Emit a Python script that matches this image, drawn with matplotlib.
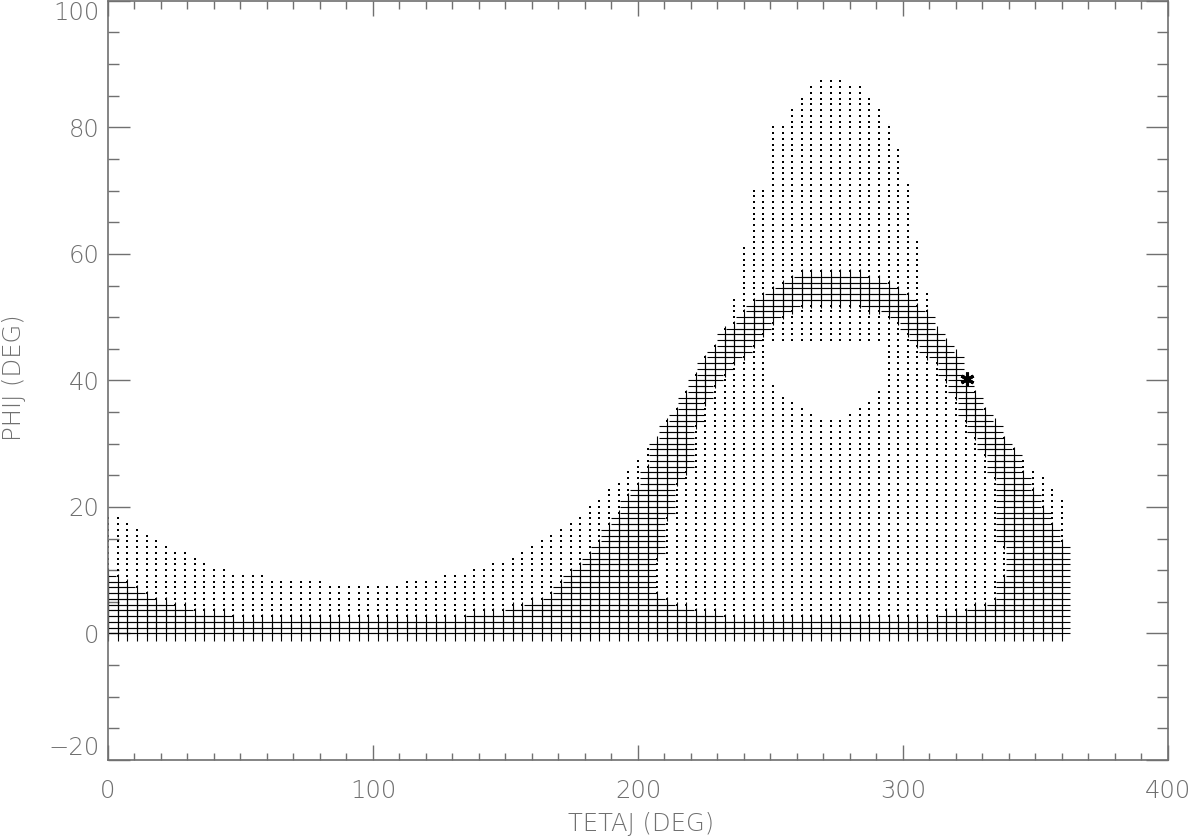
import numpy as np
import matplotlib
matplotlib.use('Agg')
import matplotlib.pyplot as plt
from matplotlib.ticker import MultipleLocator

# sampling grid of the map: 100 columns in TETAJ, 100 rows in PHIJ
tetaj = np.linspace(0, 360, 100)
phij = np.linspace(0, 90, 100)

# per column (0..99): highest row index that carries a symbol
top_row = [20, 20, 19, 18, 17, 16, 15, 14, 14, 13,
           12, 11, 11, 10, 10, 10, 10, 9, 9, 9,
           9, 9, 9, 8, 8, 8, 8, 8, 8, 8,
           8, 9, 9, 9, 9, 10, 10, 10, 11, 11,
           12, 12, 13, 14, 15, 16, 17, 18, 19, 20,
           22, 23, 25, 26, 28, 30, 32, 33, 37, 39,
           42, 45, 48, 50, 53, 58, 67, 77, 77, 88,
           88, 91, 93, 95, 96, 96, 96, 95, 95, 93,
           91, 88, 84, 78, 68, 59, 52, 50, 48, 44,
           42, 39, 36, 34, 32, 30, 28, 27, 25, 23]

# per column: top row of the '+' band along PHIJ = 0
bottom_row = [10, 9, 8, 7, 6, 5, 5, 4, 4, 3,
              3, 3, 3, 2, 2, 2, 2, 2, 2, 2,
              2, 2, 2, 2, 2, 2, 2, 2, 2, 2,
              2, 2, 2, 2, 2, 2, 2, 2, 3, 3,
              3, 3, 4, 4, 5, 5, 6, 7, 7, 7,
              7, 7, 7, 7, 7, 7, 7, 6, 5, 4,
              4, 3, 3, 3, 2, 2, 2, 2, 2, 2,
              2, 2, 2, 2, 2, 2, 2, 2, 2, 2,
              2, 2, 2, 2, 2, 2, 2, 3, 3, 3,
              4, 4, 5, 9, 9, 9, 9, 9, 9, 9]

# per column: lower / upper row of the arch-shaped '+' band
arch_hi = ([-1] * 38 + [3, 3, 3, 3, 4, 4, 5, 5, 6]
           + [8, 10, 11, 13, 15, 18, 20, 23, 25, 28]
           + [33, 36, 38, 41, 44, 47, 49, 52, 53, 55]
           + [57, 58, 59, 60, 61] + [62] * 7
           + [61, 61, 60, 59, 58, 56, 55, 52, 50, 48, 43,
              41, 38, 36, 33, 31, 27, 24, 21, 18, 15])
arch_lo = ([0] * 57
           + [14, 21, 27, 29, 37, 41, 44, 46, 48, 49, 51, 53, 55, 56, 57]
           + [58] * 7
           + [57, 57, 56, 55, 53, 51, 49, 48, 45, 42, 38, 35, 32, 28, 16]
           + [0] * 6)

# per column: empty hole inside the arch
hole_lo = [0] * 69 + [44, 42, 41, 40, 39, 38, 38, 38, 39, 40, 41, 43] + [0] * 19
hole_hi = [-1] * 69 + [50] * 12 + [-1] * 19

star_tetaj, star_phij = 324.0, 40.3

TH, PH = np.meshgrid(tetaj, phij)
J = np.arange(len(phij))[:, None]
plus = (J <= np.array(bottom_row)) | ((J >= np.array(arch_lo)) & (J <= np.array(arch_hi)))
hole = (J >= np.array(hole_lo)) & (J <= np.array(hole_hi))
dots = (J <= np.array(top_row)) & ~plus & ~hole

grey = '#707070'
plt.rcParams['font.family'] = ['DejaVu Sans']
plt.rcParams['font.weight'] = 'light'

fig = plt.figure(figsize=(12, 8.38), dpi=100)
ax = fig.add_axes([0.09, 0.0931, 0.8833, 0.9059])

ax.plot(TH[dots], PH[dots], ls='none', marker='s', ms=1.8, mew=0, color='black')
ax.plot(TH[plus], PH[plus], ls='none', marker='+', ms=11.5, mew=0.8, color='black')
ax.plot([star_tetaj], [star_phij], ls='none', marker=(6, 2, 0), ms=10, mew=2.2, color='black')

ax.set_xlim(0, 400)
ax.set_ylim(-20, 100)
ax.xaxis.set_major_locator(MultipleLocator(100))
ax.xaxis.set_minor_locator(MultipleLocator(10))
ax.yaxis.set_major_locator(MultipleLocator(20))
ax.yaxis.set_minor_locator(MultipleLocator(5))

for s in ax.spines.values():
    s.set_color(grey)
    s.set_linewidth(1.2)
ax.tick_params(which='both', direction='in', top=True, right=True,
               color=grey, width=1.0, labelcolor=grey, labelsize=17.5)
ax.tick_params(axis='x', which='major', length=10.8, pad=14)
ax.tick_params(axis='x', which='minor', length=5.4)
ax.tick_params(axis='y', which='major', length=15.8, pad=6)
ax.tick_params(axis='y', which='minor', length=7.9)
ax.set_yticks(range(-20, 101, 20))
ax.set_yticklabels(['\u221220', '0', '20', '40', '60', '80', '100'])
yl = ax.yaxis.get_major_ticks()
yl[0].label1.set_va('bottom')
yl[-1].label1.set_va('top')

fig.text(641 / 1200, 1 - 824 / 838, 'TETAJ (DEG)', ha='center', va='center',
         fontsize=17.5, color=grey)
fig.text(14 / 1200, 1 - 378 / 838, 'PHIJ (DEG)', ha='center', va='center',
         rotation=90, fontsize=17.5, color=grey)

fig.savefig('out.png', dpi=100)
